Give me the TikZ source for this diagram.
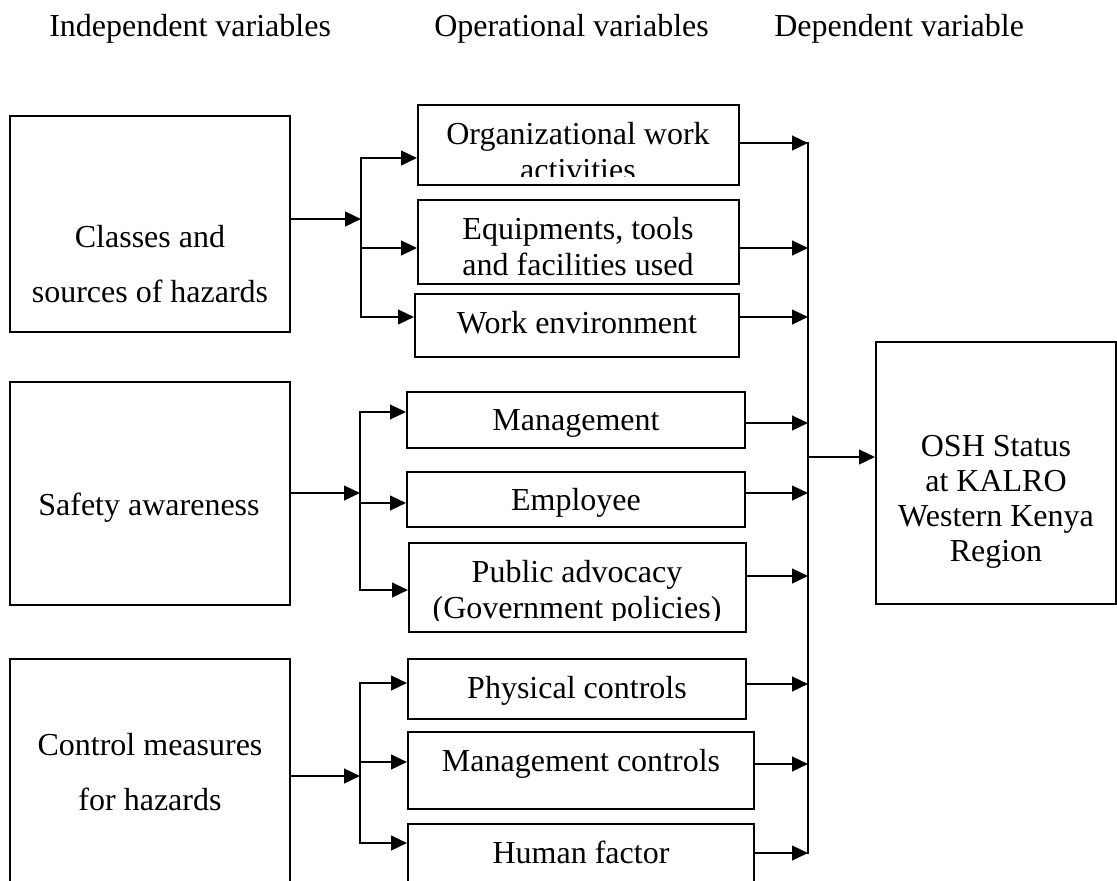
\documentclass[tikz,border=0pt]{standalone}
\usepackage{fontspec}
\setmainfont{Liberation Serif}
\usetikzlibrary{arrows.meta,fit}
\begin{document}
\begin{tikzpicture}[x=0.75pt,y=-0.75pt,
  box/.style={draw,line width=1.5pt,inner sep=0pt},
  txt/.style={font=\fontsize{24pt}{27pt}\selectfont,align=center,anchor=base,inner sep=0pt},
  widetxt/.style={font=\fontsize{24pt}{41pt}\selectfont},
  oshtxt/.style={font=\fontsize{24pt}{26.25pt}\selectfont},
  hdr/.style={font=\fontsize{24pt}{27pt}\selectfont,anchor=base west,inner sep=0pt},
  conn/.style={line width=1.8pt,line cap=rect},
  arr/.style={line width=1.8pt,-{Triangle[length=12pt,width=11pt]}}]
\useasboundingbox (0,0) rectangle (1117,881);
\clip (0,0) rectangle (1117,881);

% headers
\node[hdr] (h1) at (49,37) {Independent variables};
\node[hdr] (h2) at (434,37) {Operational variables};
\node[hdr] (h3) at (774,37) {Dependent variable};

% boxes
\node[box,fit={(10,116) (290,332)}] (cls) {};
\node[box,fit={(10,382) (290,605)}] (saf) {};
\node[box,fit={(10,659) (290,900)}] (ctl) {};
\node[box,fit={(418,105) (739,185)}] (org) {};
\node[box,fit={(418,200) (739,284)}] (eqp) {};
\node[box,fit={(415,294) (739,357)}] (wrk) {};
\node[box,fit={(407,392) (745,448)}] (mgt) {};
\node[box,fit={(407,472) (745,527)}] (emp) {};
\node[box,fit={(409,543) (746,632)}] (pub) {};
\node[box,fit={(408,659) (746,719)}] (phy) {};
\node[box,fit={(408,732) (754,809)}] (mct) {};
\node[box,fit={(408,824) (754,900)}] (hum) {};
\node[box,fit={(876,342) (1116,604)}] (osh) {};

% texts (base anchor = baseline of the last line)
\node[txt,widetxt] (clst) at (150,302) {Classes and\\sources of hazards};
\node[txt] (saft) at (149,515) {Safety awareness};
\node[txt,widetxt] (ctlt) at (150,810) {Control measures\\for hazards};
\begin{scope}
\clip (418,105) rectangle (739,176);
\node[txt] (orgt) at (578,180) {Organizational work\\activities};
\end{scope}
\begin{scope}
\clip (418,200) rectangle (739,275);
\node[txt] (eqpt) at (578,275) {Equipments, tools\\and facilities used};
\end{scope}
\node[txt] (wrkt) at (577,333) {Work environment};
\node[txt] (mgtt) at (576,430) {Management};
\node[txt] (empt) at (576,510) {Employee};
\begin{scope}
\clip (409,543) rectangle (746,620);
\node[txt] (pubt) at (577,618) {Public advocacy\\(Government policies)};
\end{scope}
\node[txt] (phyt) at (577,698) {Physical controls};
\node[txt] (mctt) at (581,771) {Management controls};
\node[txt] (humt) at (581,863) {Human factor};
\node[txt,oshtxt] (osht) at (996,561) {OSH Status\\at KALRO\\Western Kenya\\Region};

% junction points
\coordinate (j1m) at (361,219);
\coordinate (j1a) at (361,158);
\coordinate (j1b) at (361,248);
\coordinate (j1c) at (361,317);
\coordinate (j2m) at (360,493);
\coordinate (j2a) at (360,412);
\coordinate (j2b) at (360,503);
\coordinate (j2c) at (360,590);
\coordinate (j3m) at (360,776);
\coordinate (j3a) at (360,683);
\coordinate (j3b) at (360,762);
\coordinate (j3c) at (360,843);

% bus points
\coordinate (r1) at (808,143);
\coordinate (r2) at (808,248);
\coordinate (r3) at (808,317);
\coordinate (r4) at (808,423);
\coordinate (r5) at (808,493);
\coordinate (r6) at (808,576);
\coordinate (r7) at (808,684);
\coordinate (r8) at (808,764);
\coordinate (r9) at (808,853);
\coordinate (ro) at (808,457);

% group 1
\draw[arr] (cls.east |- j1m) -- (j1m);
\draw[conn] (j1a) -- (j1c);
\draw[arr] (j1a) -- (org.west |- j1a);
\draw[arr] (j1b) -- (eqp.west |- j1b);
\draw[arr] (j1c) -- (wrk.west |- j1c);
% group 2
\draw[arr] (saf.east |- j2m) -- (j2m);
\draw[conn] (j2a) -- (j2c);
\draw[arr] (j2a) -- (mgt.west |- j2a);
\draw[arr] (j2b) -- (emp.west |- j2b);
\draw[arr] (j2c) -- (pub.west |- j2c);
% group 3
\draw[arr] (ctl.east |- j3m) -- (j3m);
\draw[conn] (j3a) -- (j3c);
\draw[arr] (j3a) -- (phy.west |- j3a);
\draw[arr] (j3b) -- (mct.west |- j3b);
\draw[arr] (j3c) -- (hum.west |- j3c);

% bus
\draw[conn] (r1) -- (r9);
\draw[arr] (org.east |- r1) -- (r1);
\draw[arr] (eqp.east |- r2) -- (r2);
\draw[arr] (wrk.east |- r3) -- (r3);
\draw[arr] (mgt.east |- r4) -- (r4);
\draw[arr] (emp.east |- r5) -- (r5);
\draw[arr] (pub.east |- r6) -- (r6);
\draw[arr] (phy.east |- r7) -- (r7);
\draw[arr] (mct.east |- r8) -- (r8);
\draw[arr] (hum.east |- r9) -- (r9);
\draw[arr] (ro) -- (osh.west |- ro);
\end{tikzpicture}
\end{document}
